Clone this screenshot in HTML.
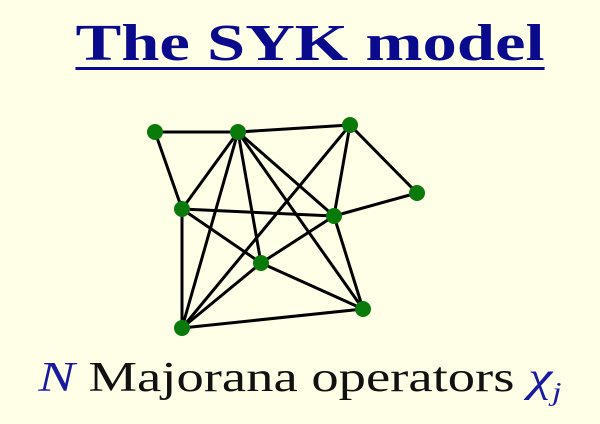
<!DOCTYPE html>
<html><head><style>
body{margin:0;background:#ffffe8;width:600px;height:424px;overflow:hidden}
.t{position:absolute;left:0;width:600px;text-align:center;top:14px;font-family:"Liberation Serif",serif;font-weight:bold;font-size:52px;color:#0a0a8c;text-decoration:underline;text-decoration-thickness:3px;text-underline-offset:7px;transform:translateX(10px) scaleX(1.32);transform-origin:300px 0}
.b{position:absolute;left:0;width:600px;text-align:center;top:354px;font-family:"Liberation Serif",serif;font-size:42px;color:#111;transform:scaleX(1.3);transform-origin:300px 0}
i{color:#1a1aa0}
</style></head><body>
<div class="t">The SYK model</div>
<svg width="600" height="424" style="position:absolute;left:0;top:0">
<g stroke="#000" stroke-width="3">
<line x1="155" y1="132" x2="238" y2="132"/>
<line x1="238" y1="132" x2="350" y2="125"/>
<line x1="155" y1="132" x2="182" y2="209"/>
<line x1="238" y1="132" x2="182" y2="209"/>
<line x1="238" y1="132" x2="182" y2="328"/>
<line x1="238" y1="132" x2="261" y2="263"/>
<line x1="238" y1="132" x2="334" y2="216"/>
<line x1="238" y1="132" x2="363" y2="309"/>
<line x1="350" y1="125" x2="182" y2="328"/>
<line x1="350" y1="125" x2="334" y2="216"/>
<line x1="350" y1="125" x2="417" y2="193"/>
<line x1="417" y1="193" x2="334" y2="216"/>
<line x1="182" y1="209" x2="334" y2="216"/>
<line x1="182" y1="209" x2="182" y2="328"/>
<line x1="182" y1="209" x2="261" y2="263"/>
<line x1="261" y1="263" x2="363" y2="309"/>
<line x1="334" y1="216" x2="363" y2="309"/>
<line x1="182" y1="328" x2="261" y2="263"/>
<line x1="261" y1="263" x2="334" y2="216"/>
<line x1="182" y1="328" x2="363" y2="309"/>
</g>
<g fill="#0a7a0a">
<circle cx="155" cy="132" r="8"/><circle cx="238" cy="132" r="8"/><circle cx="350" cy="125" r="8"/>
<circle cx="417" cy="193" r="8"/><circle cx="182" cy="209" r="8"/><circle cx="334" cy="216" r="8"/>
<circle cx="261" cy="263" r="8"/><circle cx="363" cy="309" r="8"/><circle cx="182" cy="328" r="8"/>
</g>
</svg>
<div class="b"><i>N</i> Majorana operators <i>χ<sub style="font-size:26px">j</sub></i></div>
</body></html>
